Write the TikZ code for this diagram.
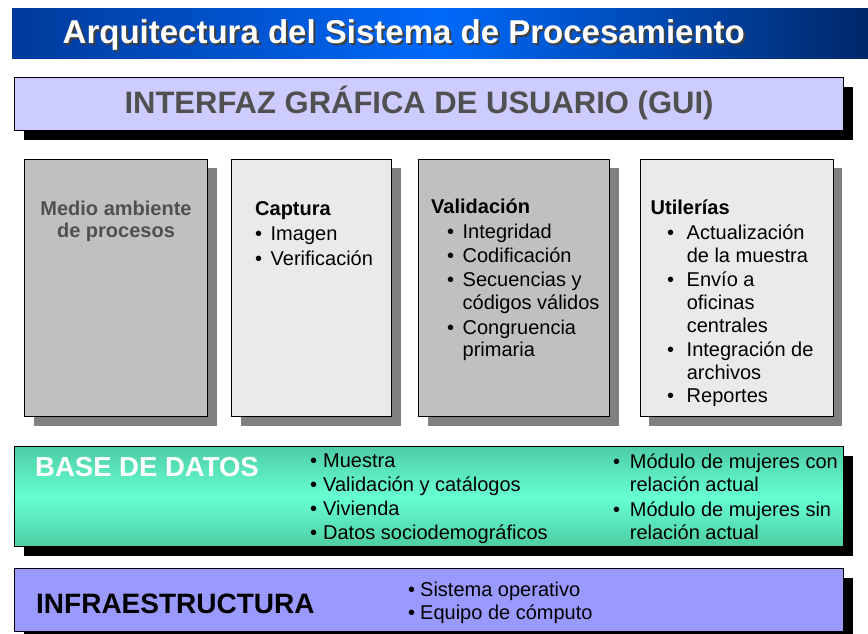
\documentclass[tikz,border=0pt]{standalone}
\usepackage{fontspec}
\setmainfont{Liberation Sans}
\usepackage{xcolor}
\definecolor{titledark}{RGB}{0,58,155}
\definecolor{titlelight}{RGB}{0,105,250}
\definecolor{titleend}{RGB}{0,40,105}
\definecolor{guifill}{RGB}{204,204,255}
\definecolor{colgray}{RGB}{192,192,192}
\definecolor{collight}{RGB}{234,234,234}
\definecolor{shadegray}{RGB}{128,128,128}
\definecolor{dbdark}{RGB}{78,205,165}
\definecolor{dblight}{RGB}{102,255,208}
\definecolor{infrafill}{RGB}{153,153,255}
\definecolor{labelgray}{RGB}{80,80,80}
\usepackage{tikz}
\usetikzlibrary{positioning, shadows}

% bullet with a fixed box, and the matching indent for wrapped lines
\newcommand{\bul}[1][15.5pt]{\makebox[#1][l]{\textbullet}}
\newcommand{\nob}[1][15.5pt]{\hspace*{#1}}
% white text over a dark offset copy of itself
\newcommand{\shadowed}[1]{\makebox[0pt][l]{\hspace*{2pt}\raisebox{-2pt}{\textcolor{black!75}{#1}}}#1}

\begin{document}
\begin{tikzpicture}[
    x=1pt, y=-1pt,
    layer/.style={rectangle, draw=black, line width=1pt, anchor=north west, inner sep=0pt, minimum width=829pt},
    blackshadow/.style={drop shadow={shadow xshift=9pt, shadow yshift=-9pt, fill=black, opacity=1}},
    grayshadow/.style={drop shadow={shadow xshift=9pt, shadow yshift=-9pt, fill=shadegray, opacity=1}},
    column/.style={rectangle, draw=black, line width=1pt, inner sep=0pt, minimum height=257.5pt, grayshadow},
    coltext/.style={anchor=north west, inner sep=0pt, align=left, font=\fontsize{20}{22.5}\selectfont},
    bigtext/.style={inner sep=0pt, anchor=base west, font=\bfseries\fontsize{28}{30}\selectfont}
]
\useasboundingbox (0,0) rectangle (868,633);

% title bar
\node[rectangle, anchor=north west, inner sep=0pt, minimum width=856pt, minimum height=50pt,
      left color=titledark, right color=titleend, middle color=titlelight] (title) at (12,8) {};
\node[inner sep=0pt, anchor=base west, text=white, font=\bfseries\fontsize{33}{36}\selectfont]
      (titlelbl) at (62.5,43.5) {\shadowed{Arquitectura del Sistema de Procesamiento}};

% GUI
\node[layer, blackshadow, fill=guifill, minimum height=53pt] (gui) at (14,77) {};
\node[inner sep=0pt, anchor=base, text=labelgray, font=\bfseries\fontsize{31}{34}\selectfont]
      (guilbl) at (419,113) {INTERFAZ GRÁFICA DE USUARIO (GUI)};

% process columns
\node[column, anchor=north west, fill=colgray, minimum width=183pt] (medio) at (24,158.5) {};
\node[column, fill=collight, minimum width=160pt, right=23pt of medio] (captura) {};
\node[column, fill=colgray, minimum width=191pt, right=26pt of captura] (valid) {};
\node[column, fill=collight, minimum width=193pt, right=29.5pt of valid] (util) {};

\node[coltext, anchor=north, align=center, text=labelgray, font=\bfseries\fontsize{20}{22.5}\selectfont,
      below=42pt of medio.north] (mediolbl) {Medio ambiente\\de procesos};
\node[coltext, font=\fontsize{20}{25}\selectfont, below right=42.5pt and 24pt of captura.north west] (capturalbl)
      {\textbf{Captura}\\\bul Imagen\\\bul Verificación};
\node[coltext, below right=40.5pt and 13pt of valid.north west] (validlbl)
      {\textbf{Validación}\\[2pt]
       \nob[16pt]\bul Integridad\\[2pt]
       \nob[16pt]\bul Codificación\\[1.5pt]
       \nob[16pt]\bul Secuencias y\\
       \nob[16pt]\nob códigos válidos\\[2.5pt]
       \nob[16pt]\bul Congruencia\\
       \nob[16pt]\nob primaria};
\node[coltext, font=\fontsize{20}{23}\selectfont, below right=41.5pt and 11pt of util.north west] (utillbl)
      {\textbf{Utilerías}\\[2pt]
       \nob[16.5pt]\bul[14pt] Actualización\\
       \nob[16.5pt]\nob[14pt] de la muestra\\[0.5pt]
       \nob[16.5pt]\bul[14pt] Envío a\\
       \nob[16.5pt]\nob[14pt] oficinas\\
       \nob[16.5pt]\nob[14pt] centrales\\[1.5pt]
       \nob[16.5pt]\bul[14pt] Integración de\\
       \nob[16.5pt]\nob[14pt] archivos\\
       \nob[16.5pt]\bul[14pt] Reportes};

% database
\node[layer, blackshadow, minimum height=100pt,
      top color=dbdark, bottom color=dbdark, middle color=dblight] (base) at (14,446) {};
\node[bigtext, text=white, font=\bfseries\fontsize{27.5}{30}\selectfont] (baselbl) at (35,476) {BASE DE DATOS};
\node[coltext, font=\fontsize{20}{23.8}\selectfont, below right=8pt and 296pt of base.north west] (baselist)
      {\bul[13pt]Muestra\\\bul[13pt]Validación y catálogos\\\bul[13pt]Vivienda\\\bul[13pt]Datos sociodemográficos};
\node[coltext, font=\fontsize{20}{23}\selectfont, below right=8pt and 599pt of base.north west] (modlist)
      {\bul[16.7pt]Módulo de mujeres con\\
       \nob[16.7pt]relación actual\\[1.5pt]
       \bul[16.7pt]Módulo de mujeres sin\\
       \nob[16.7pt]relación actual};

% infrastructure
\node[layer, blackshadow, fill=infrafill, minimum height=63pt] (infra) at (14,568) {};
\node[bigtext] (infralbl) at (36,613) {INFRAESTRUCTURA};
\node[coltext, font=\fontsize{20}{23}\selectfont, below right=13.5pt and 394pt of infra.north west] (infralist)
      {\bul[12pt]Sistema operativo\\\bul[12pt]Equipo de cómputo};
\end{tikzpicture}
\end{document}
